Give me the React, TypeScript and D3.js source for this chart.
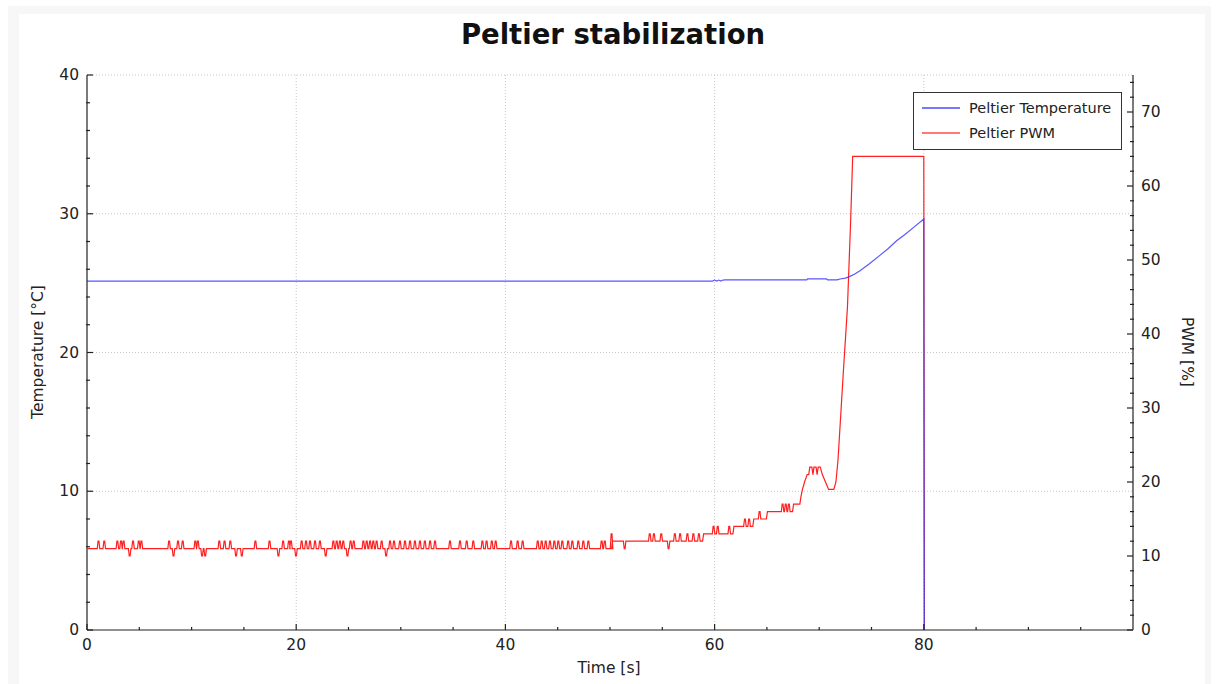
import React from 'react';
import * as d3 from 'd3';

// chart values
const timeTicks = [0, 20, 40, 60, 80];
const tempTicks = [0, 10, 20, 30, 40];
const pwmTicks = [0, 10, 20, 30, 40, 50, 60, 70];

// temperature [°C] over time [s]
const tempPoints: [number, number][] = [
  [0, 25.15], [59.8, 25.15], [60.0, 25.22], [60.2, 25.15], [60.4, 25.22], [60.6, 25.15],
  [60.8, 25.22], [61.0, 25.23], [68.8, 25.23], [68.9, 25.3], [70.7, 25.3], [70.8, 25.23],
  [71.7, 25.23], [72.0, 25.3], [72.5, 25.36], [72.9, 25.47], [73.4, 25.66], [73.9, 25.9],
  [74.8, 26.4], [75.8, 27.0], [76.6, 27.5], [77.4, 28.05], [78.2, 28.5], [79.0, 29.0],
  [80.0, 29.62], [80.05, 0],
];

// PWM base level changes [time, level] for the noisy part
const pwmBase: [number, number][] = [
  [0, 11], [50.2, 12], [58.9, 13], [61.8, 14], [63.7, 15], [65.0, 16], [67.5, 17],
];

// short PWM pulses [time, value]
const pwmPulses: [number, number][] = [
  [1.1, 12], [1.65, 12], [2.9, 12], [3.25, 12], [3.5, 12], [4.08, 10], [4.4, 12], [4.95, 12], [5.2, 12],
  [7.85, 12], [8.27, 10], [8.7, 12], [9.15, 12], [10.35, 12], [10.6, 12], [11.0, 10], [11.3, 10],
  [12.65, 12], [13.15, 12], [13.7, 12], [14.25, 10], [14.8, 10], [16.1, 12], [17.45, 12], [18.3, 10],
  [18.75, 12], [19.3, 12], [19.5, 12], [19.98, 10], [20.52, 12], [20.94, 12], [21.32, 12], [21.8, 12],
  [22.27, 12], [22.82, 10], [23.55, 12], [23.87, 12], [24.18, 12], [24.5, 12], [24.9, 10], [25.2, 12],
  [25.5, 12], [26.42, 12], [26.74, 12], [27.06, 12], [27.37, 12], [27.69, 12], [28.17, 12], [28.6, 10],
  [28.97, 12], [29.35, 12], [29.92, 12], [30.4, 12], [30.88, 12], [31.35, 12], [31.83, 12], [32.3, 12],
  [32.8, 12], [33.27, 12], [34.7, 12], [35.66, 12], [36.3, 12], [36.93, 12], [37.8, 12], [38.2, 12],
  [38.7, 12], [39.07, 12], [40.54, 12], [41.17, 12], [41.65, 12], [43.09, 12], [43.47, 12], [43.85, 12],
  [44.26, 12], [44.68, 12], [45.06, 12], [45.44, 12], [46.0, 12], [46.4, 12], [46.97, 12], [47.45, 12],
  [47.93, 12], [49.2, 12], [49.5, 12], [50.15, 13], [51.4, 11], [53.8, 13], [54.2, 13], [54.9, 13],
  [55.6, 11], [56.2, 13], [56.7, 13], [57.4, 13], [57.97, 13], [58.5, 13], [59.9, 14], [60.3, 14],
  [61.4, 14], [62.9, 15], [63.3, 15], [64.3, 16], [66.5, 17], [66.8, 17], [67.1, 17],
];

// PWM final ramp [time, value]
const pwmRamp: [number, number][] = [
  [68.15, 17], [68.25, 18], [68.4, 19], [68.6, 20], [68.85, 21], [69.0, 21], [69.1, 22], [69.3, 22],
  [69.4, 21], [69.5, 22], [69.7, 22], [69.8, 21], [69.9, 22], [70.1, 22], [70.3, 21], [70.6, 20],
  [70.9, 19], [71.4, 19], [71.6, 20], [71.8, 23], [72.3, 34.7], [72.7, 43.6], [73.0, 55], [73.2, 64],
  [80.0, 64], [80.05, 0],
];

function buildPwm(): [number, number][] {
  // corner points of the step signal: base levels plus pulses
  const events: { t: number; kind: 'base' | 'pulse'; v: number }[] = [];
  pwmBase.forEach(([t, v]) => events.push({ t, kind: 'base', v }));
  pwmPulses.forEach(([t, v]) => events.push({ t, kind: 'pulse', v }));
  events.sort((a, b) => a.t - b.t);
  const pts: [number, number][] = [];
  let level = pwmBase[0][1];
  for (const e of events) {
    if (e.kind === 'base') {
      if (pts.length) {
        pts.push([e.t - 0.05, level]);
      }
      level = e.v;
      pts.push([e.t + 0.05, level]);
    } else {
      pts.push([e.t - 0.12, level], [e.t - 0.04, e.v], [e.t + 0.04, e.v], [e.t + 0.12, level]);
    }
  }
  return pts.concat(pwmRamp);
}

const W = 1219;
const H = 684;
const margin = { left: 87, right: 1133, top: 75, bottom: 630 };
const font = 'DejaVu Sans, sans-serif';

export default function App() {
  const x = d3.scaleLinear().domain([0, 100]).range([margin.left, margin.right]);
  const yT = d3.scaleLinear().domain([0, 40]).range([margin.bottom, margin.top]);
  const yP = d3.scaleLinear().domain([0, 75]).range([margin.bottom, margin.top]);

  const tempLine = d3.line<[number, number]>().x((d) => x(d[0])).y((d) => yT(d[1]));
  const pwmLine = d3.line<[number, number]>().x((d) => x(d[0])).y((d) => yP(d[1]));
  const pwmPoints = buildPwm();

  const xMinor = d3.range(0, 101, 5).filter((v) => v % 20 !== 0);
  const tMinor = d3.range(0, 41, 2).filter((v) => v % 10 !== 0);
  const pMinor = d3.range(0, 76, 2).filter((v) => v % 10 !== 0);

  return (
    <svg
      width={W}
      height={H}
      style={{ position: 'absolute', left: 0, top: 0, display: 'block' }}
    >
      <rect x={8} y={6} width={1203} height={678} fill="#f7f7f7" />
      <rect x={19} y={14} width={1186} height={670} fill="#ffffff" />

      <text x={613} y={44} textAnchor="middle" fontFamily={font} fontWeight="bold" fontSize={27.5} fill="#111">
        Peltier stabilization
      </text>

      {/* grid */}
      <g stroke="#c8c8c8" strokeDasharray="1,2" strokeWidth={1}>
        {timeTicks.filter((v) => v > 0).map((v) => (
          <line key={'gx' + v} x1={x(v)} x2={x(v)} y1={margin.top} y2={margin.bottom} />
        ))}
        {tempTicks.filter((v) => v > 0).map((v) => (
          <line key={'gy' + v} x1={margin.left} x2={margin.right} y1={yT(v)} y2={yT(v)} />
        ))}
      </g>

      {/* series */}
      <path d={pwmLine(pwmPoints) || ''} fill="none" stroke="#ff2020" strokeWidth={1.2} />
      <path d={tempLine(tempPoints) || ''} fill="none" stroke="#3a3aff" strokeWidth={1.2} opacity={0.85} />

      {/* axes */}
      <g stroke="#222" strokeWidth={1.2}>
        <line x1={margin.left} x2={margin.left} y1={margin.top} y2={margin.bottom} />
        <line x1={margin.left} x2={margin.right} y1={margin.bottom} y2={margin.bottom} />
        <line x1={margin.right} x2={margin.right} y1={margin.top} y2={margin.bottom} />
        {timeTicks.map((v) => (
          <line key={'tx' + v} x1={x(v)} x2={x(v)} y1={margin.bottom} y2={margin.bottom - 6} />
        ))}
        {xMinor.map((v) => (
          <line key={'mx' + v} x1={x(v)} x2={x(v)} y1={margin.bottom} y2={margin.bottom - 3} />
        ))}
        {tempTicks.map((v) => (
          <line key={'ty' + v} x1={margin.left} x2={margin.left + 6} y1={yT(v)} y2={yT(v)} />
        ))}
        {tMinor.map((v) => (
          <line key={'my' + v} x1={margin.left - 1} x2={margin.left + 3} y1={yT(v)} y2={yT(v)} />
        ))}
        {pwmTicks.map((v) => (
          <line key={'tp' + v} x1={margin.right} x2={margin.right - 6} y1={yP(v)} y2={yP(v)} />
        ))}
        {pMinor.map((v) => (
          <line key={'mp' + v} x1={margin.right + 1} x2={margin.right - 3} y1={yP(v)} y2={yP(v)} />
        ))}
      </g>

      <g fontFamily={font} fontSize={15.5} fill="#222">
        {timeTicks.map((v) => (
          <text key={'lx' + v} x={x(v)} y={margin.bottom + 20} textAnchor="middle">{v}</text>
        ))}
        {tempTicks.map((v) => (
          <text key={'ly' + v} x={margin.left - 8} y={yT(v) + 5} textAnchor="end">{v}</text>
        ))}
        {pwmTicks.map((v) => (
          <text key={'lp' + v} x={margin.right + 8} y={yP(v) + 5} textAnchor="start">{v}</text>
        ))}
        <text x={609} y={673} textAnchor="middle">Time [s]</text>
        <text transform={`translate(43,352) rotate(-90)`} textAnchor="middle">Temperature [°C]</text>
        <text transform={`translate(1182,352) rotate(90)`} textAnchor="middle">PWM [%]</text>
      </g>

      {/* legend */}
      <g fontFamily={font} fontSize={14.5} fill="#222">
        <rect x={913.5} y={92.5} width={208} height={57} fill="#fff" stroke="#333" strokeWidth={1} />
        <line x1={922} x2={960} y1={108} y2={108} stroke="#4a4aff" strokeWidth={1.3} />
        <text x={969} y={112.5}>Peltier Temperature</text>
        <line x1={922} x2={960} y1={133} y2={133} stroke="#ff4a4a" strokeWidth={1.3} />
        <text x={969} y={137.5}>Peltier PWM</text>
      </g>
    </svg>
  );
}
